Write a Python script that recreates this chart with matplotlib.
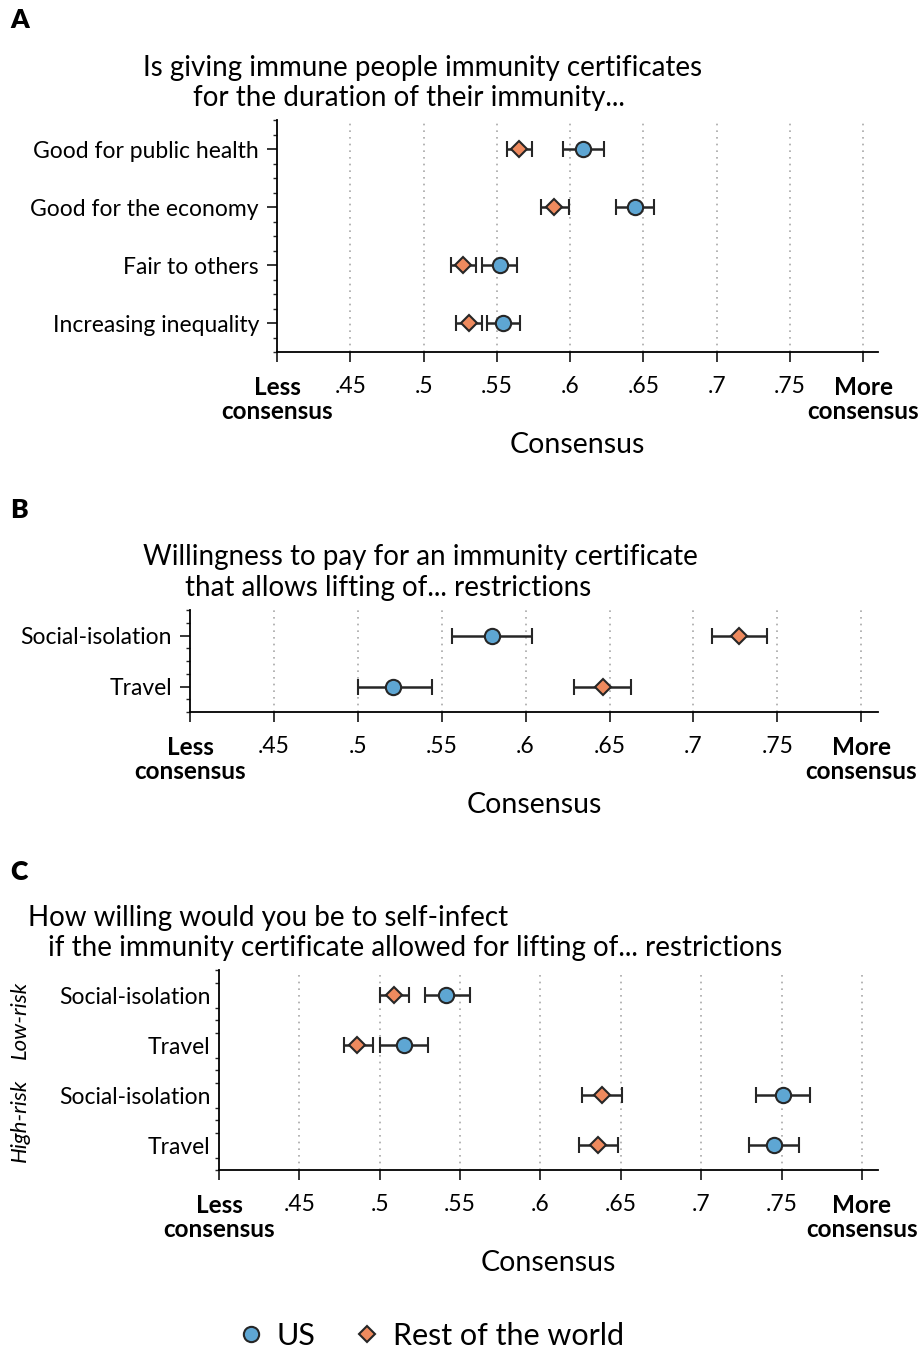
import matplotlib
matplotlib.use("Agg")
import matplotlib.pyplot as plt
from matplotlib.lines import Line2D
from matplotlib.ticker import MultipleLocator
import numpy as np

plt.rcParams['font.family'] = ['Lato', 'DejaVu Sans']

BLUE = '#5ea6d3'
ORANGE = '#ee8a5e'
EDGE = '#262626'

# Panel A
a_labels = ['Good for public health', 'Good for the economy', 'Fair to others', 'Increasing inequality']
a_us = [0.609, 0.644, 0.552, 0.554]
a_us_lo = [0.595, 0.631, 0.540, 0.543]
a_us_hi = [0.623, 0.657, 0.564, 0.566]
a_row = [0.565, 0.589, 0.527, 0.531]
a_row_lo = [0.557, 0.580, 0.519, 0.522]
a_row_hi = [0.574, 0.599, 0.536, 0.540]

# Panel B
b_labels = ['Social-isolation', 'Travel']
b_us = [0.580, 0.521]
b_us_lo = [0.556, 0.500]
b_us_hi = [0.604, 0.544]
b_row = [0.727, 0.646]
b_row_lo = [0.711, 0.629]
b_row_hi = [0.744, 0.663]

# Panel C
c_labels = ['Social-isolation', 'Travel', 'Social-isolation', 'Travel']
c_groups = ['Low-risk', 'High-risk']
c_us = [0.541, 0.515, 0.751, 0.745]
c_us_lo = [0.528, 0.500, 0.734, 0.730]
c_us_hi = [0.556, 0.530, 0.768, 0.761]
c_row = [0.509, 0.486, 0.638, 0.636]
c_row_lo = [0.500, 0.478, 0.626, 0.624]
c_row_hi = [0.518, 0.496, 0.651, 0.648]

xticks = [0.4, 0.45, 0.5, 0.55, 0.6, 0.65, 0.7, 0.75, 0.8]
xticklabels = ['Less\nconsensus', '.45', '.5', '.55', '.6', '.65', '.7', '.75', 'More\nconsensus']

W, H = 924, 1351
fig = plt.figure(figsize=(W / 100, H / 100), dpi=100)


def px_axes(left, top, right, bottom):
    return fig.add_axes([left / W, 1 - bottom / H, (right - left) / W, (bottom - top) / H])


def draw_panel(ax, labels, us, us_lo, us_hi, row, row_lo, row_hi, ytick_len=7):
    n = len(labels)
    ypos = np.arange(n, 0, -1)
    us = np.array(us)
    row = np.array(row)
    ax.errorbar(row, ypos, xerr=[row - np.array(row_lo), np.array(row_hi) - row],
                fmt='D', color=EDGE, ecolor=EDGE, elinewidth=1.8, capsize=6, capthick=1.8,
                markerfacecolor=ORANGE, markeredgecolor=EDGE, markeredgewidth=1.5,
                markersize=8.5, zorder=3)
    ax.errorbar(us, ypos, xerr=[us - np.array(us_lo), np.array(us_hi) - us],
                fmt='o', color=EDGE, ecolor=EDGE, elinewidth=1.8, capsize=6, capthick=1.8,
                markerfacecolor=BLUE, markeredgecolor=EDGE, markeredgewidth=1.5,
                markersize=11, zorder=3)
    ax.set_xlim(0.4, 0.81)
    ax.set_ylim(0.5, n + 0.5)
    ax.set_yticks(ypos)
    ax.set_yticklabels(labels, fontsize=16.5)
    ax.set_xticks(xticks)
    ax.set_xticklabels(xticklabels, fontsize=16.5, linespacing=1.05)
    for lab in ax.get_xticklabels():
        if 'consensus' in lab.get_text():
            lab.set_fontweight('bold')
            lab.set_fontsize(17.5)
    ax.yaxis.set_minor_locator(MultipleLocator(0.25))
    ax.tick_params(axis='y', which='minor', length=3, width=1, color=EDGE)
    ax.tick_params(axis='x', which='major', length=7, width=1.3, color=EDGE, pad=10)
    ax.tick_params(axis='y', which='major', length=ytick_len, width=1.3, color=EDGE, pad=6)
    for x in xticks[1:]:
        ax.axvline(x, color='#a8a8a8', linestyle=(0, (1, 3)), linewidth=1.2, zorder=1)
    ax.spines['top'].set_visible(False)
    ax.spines['right'].set_visible(False)
    ax.spines['left'].set_linewidth(1.3)
    ax.spines['bottom'].set_linewidth(1.3)
    ax.set_xlabel('Consensus', fontsize=20.5, labelpad=7)


axA = px_axes(277, 120, 878, 352)
draw_panel(axA, a_labels, a_us, a_us_lo, a_us_hi, a_row, a_row_lo, a_row_hi)
axB = px_axes(190, 610, 878, 712)
draw_panel(axB, b_labels, b_us, b_us_lo, b_us_hi, b_row, b_row_lo, b_row_hi)
axC = px_axes(219, 970, 878, 1170)
draw_panel(axC, c_labels, c_us, c_us_lo, c_us_hi, c_row, c_row_lo, c_row_hi, ytick_len=0)

# panel letters
for letter, y in [('A', 20), ('B', 510), ('C', 872)]:
    fig.text(10 / W, 1 - y / H, letter, fontsize=19, fontweight='heavy', va='center', ha='left')

# titles
titles = [
    ('Is giving immune people immunity certificates', 143, 68),
    ('for the duration of their immunity...', 193, 98),
    ('Willingness to pay for an immunity certificate', 143, 557),
    ('that allows lifting of... restrictions', 185, 588),
    ('How willing would you be to self-infect', 28, 918),
    ('if the immunity certificate allowed for lifting of... restrictions', 48, 948),
]
for txt, x, y in titles:
    fig.text(x / W, 1 - y / H, txt, fontsize=20, va='center', ha='left')

# group labels for panel C
fig.text(20 / W, 1 - 1020 / H, c_groups[0], rotation=90, style='italic', fontsize=16,
         va='center', ha='center')
fig.text(20 / W, 1 - 1120 / H, c_groups[1], rotation=90, style='italic', fontsize=16,
         va='center', ha='center')

handles = [
    Line2D([], [], marker='o', linestyle='none', markerfacecolor=BLUE, markeredgecolor=EDGE,
           markeredgewidth=1.5, markersize=11, label='US'),
    Line2D([], [], marker='D', linestyle='none', markerfacecolor=ORANGE, markeredgecolor=EDGE,
           markeredgewidth=1.5, markersize=8.5, label='Rest of the world'),
]
fig.legend(handles=handles, loc='center', bbox_to_anchor=(430 / W, 1 - 1336 / H), ncol=2,
           frameon=False, fontsize=22, handletextpad=0.35, columnspacing=1.2,
           handlelength=1.0)

fig.savefig('out.png', dpi=100)
